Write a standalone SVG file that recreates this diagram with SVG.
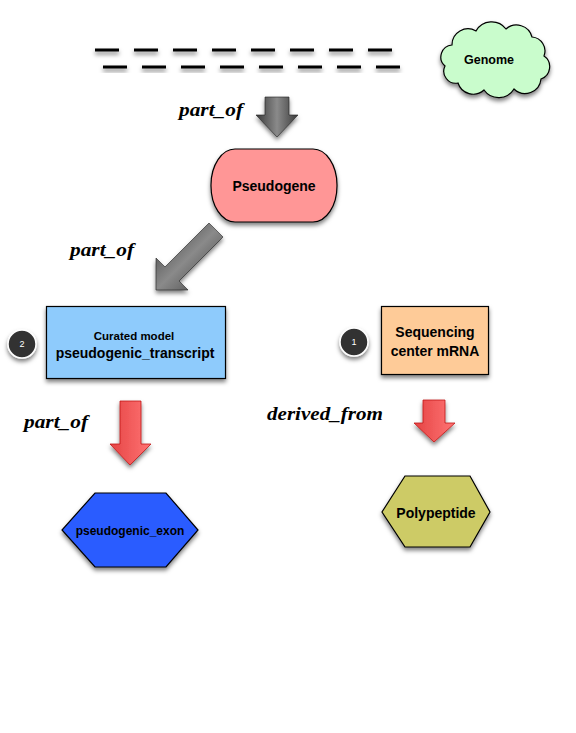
<svg xmlns="http://www.w3.org/2000/svg" width="576" height="733" viewBox="0 0 576 733">
<style>
.lbl{font-family:"Liberation Sans",Arial,sans-serif;font-weight:bold;fill:#000;text-anchor:middle}
.rel{font-family:"Liberation Serif","Times New Roman",serif;font-weight:bold;font-style:italic;font-size:19px;fill:#000}
.shape{stroke:#000;stroke-width:1.2}
.dash{stroke:#000;stroke-width:3}
.num{font-family:"Liberation Sans",Arial,sans-serif;font-size:9px;fill:#fff;text-anchor:middle}
</style>
<defs>
<filter id="sh" x="-20%" y="-20%" width="140%" height="150%">
<feDropShadow dx="0" dy="3" stdDeviation="2.2" flood-color="#000" flood-opacity="0.5"/>
</filter>
<linearGradient id="gray" x1="0" y1="0" x2="1" y2="0">
<stop offset="0" stop-color="#3a3a3a"/>
<stop offset="0.5" stop-color="#8a8a8a"/>
<stop offset="1" stop-color="#3a3a3a"/>
</linearGradient>
<linearGradient id="grayd" x1="0" y1="0" x2="1" y2="1">
<stop offset="0" stop-color="#3a3a3a"/>
<stop offset="0.5" stop-color="#8a8a8a"/>
<stop offset="1" stop-color="#3a3a3a"/>
</linearGradient>
<linearGradient id="red" x1="0" y1="0" x2="1" y2="0">
<stop offset="0" stop-color="#e54444"/>
<stop offset="1" stop-color="#ff7474"/>
</linearGradient>
</defs>
<rect width="576" height="733" fill="#fff"/>

<g id="dashes" filter="url(#sh)">
<path class="dash" d="M95 50h24M134 50h24M173 50h24M212 50h24M251 50h24M290 50h24M329 50h24M368 50h24"/>
<path class="dash" d="M103 67h24M142 67h24M181 67h24M220 67h24M259 67h24M298 67h24M337 67h24M376 67h24"/>
</g>

<g id="genome">
<path class="shape" filter="url(#sh)" fill="#c9fccc" d="M452 45 A16 16 0 0 1 476 31 A18 18 0 0 1 506 29 A16 16 0 0 1 532 37 A14 14 0 0 1 544 56 A13 13 0 0 1 541 79 A16 16 0 0 1 514 89 A18 18 0 0 1 484 90 A16 16 0 0 1 458 83 A12 12 0 0 1 445 66 A12 12 0 0 1 452 45 Z"/>
<text class="lbl" x="489" y="64" font-size="12.5">Genome</text>
</g>

<g id="pseudogene">
<rect class="shape" filter="url(#sh)" x="211" y="149" width="126" height="73" rx="24" ry="36" fill="#ff9696"/>
<text class="lbl" x="274" y="191" font-size="14">Pseudogene</text>
</g>

<g id="transcript">
<rect class="shape" filter="url(#sh)" x="46.5" y="306.5" width="179" height="72" fill="#8ecbfc"/>
<text class="lbl" x="134" y="340" font-size="11.5">Curated model</text>
<text class="lbl" x="135" y="358" font-size="14">pseudogenic_transcript</text>
</g>

<g id="badge2">
<circle cx="22" cy="344" r="14" fill="#333" stroke="#fff" stroke-width="1.5" filter="url(#sh)"/>
<text class="num" x="22" y="347">2</text>
</g>

<g id="mrna">
<rect class="shape" filter="url(#sh)" x="381.5" y="306.5" width="107" height="68" fill="#fecb98"/>
<text class="lbl" x="435" y="337" font-size="14">Sequencing</text>
<text class="lbl" x="435" y="356" font-size="14">center mRNA</text>
</g>

<g id="badge1">
<circle cx="354" cy="342" r="14" fill="#333" stroke="#fff" stroke-width="1.5" filter="url(#sh)"/>
<text class="num" x="354" y="345">1</text>
</g>

<g id="exon">
<polygon class="shape" filter="url(#sh)" fill="#2a5cff" points="95,493 166,493 198,530 166,567 95,567 62,530"/>
<text class="lbl" x="130" y="535" font-size="12">pseudogenic_exon</text>
</g>

<g id="polypeptide">
<polygon class="shape" filter="url(#sh)" fill="#cdcb66" points="405,476 470,476 490,512 470,547 405,547 382,512"/>
<text class="lbl" x="436" y="518" font-size="14">Polypeptide</text>
</g>

<g id="connectors">
<polygon filter="url(#sh)" fill="url(#gray)" stroke="#222" stroke-width="0.6" points="265,97 289,97 289,115 298,115 277,137 256,115 265,115"/>
<polygon filter="url(#sh)" fill="url(#grayd)" stroke="#222" stroke-width="0.6" points="209,223 223,237 179,281 188,290 156,290 156,258 165,267"/>
<polygon filter="url(#sh)" fill="url(#red)" stroke="#c01818" stroke-width="0.8" points="120,401 141,401 141,444 151,444 130,465 110,444 120,444"/>
<polygon filter="url(#sh)" fill="url(#red)" stroke="#c01818" stroke-width="0.8" points="423,400 445,400 445,423 455,423 434,442 414,423 423,423"/>
<text class="rel" x="179" y="116" textLength="64" lengthAdjust="spacingAndGlyphs">part_of</text>
<text class="rel" x="70" y="256" textLength="64" lengthAdjust="spacingAndGlyphs">part_of</text>
<text class="rel" x="24" y="428" textLength="64" lengthAdjust="spacingAndGlyphs">part_of</text>
<text class="rel" x="267" y="420" textLength="116" lengthAdjust="spacingAndGlyphs">derived_from</text>
</g>
</svg>
